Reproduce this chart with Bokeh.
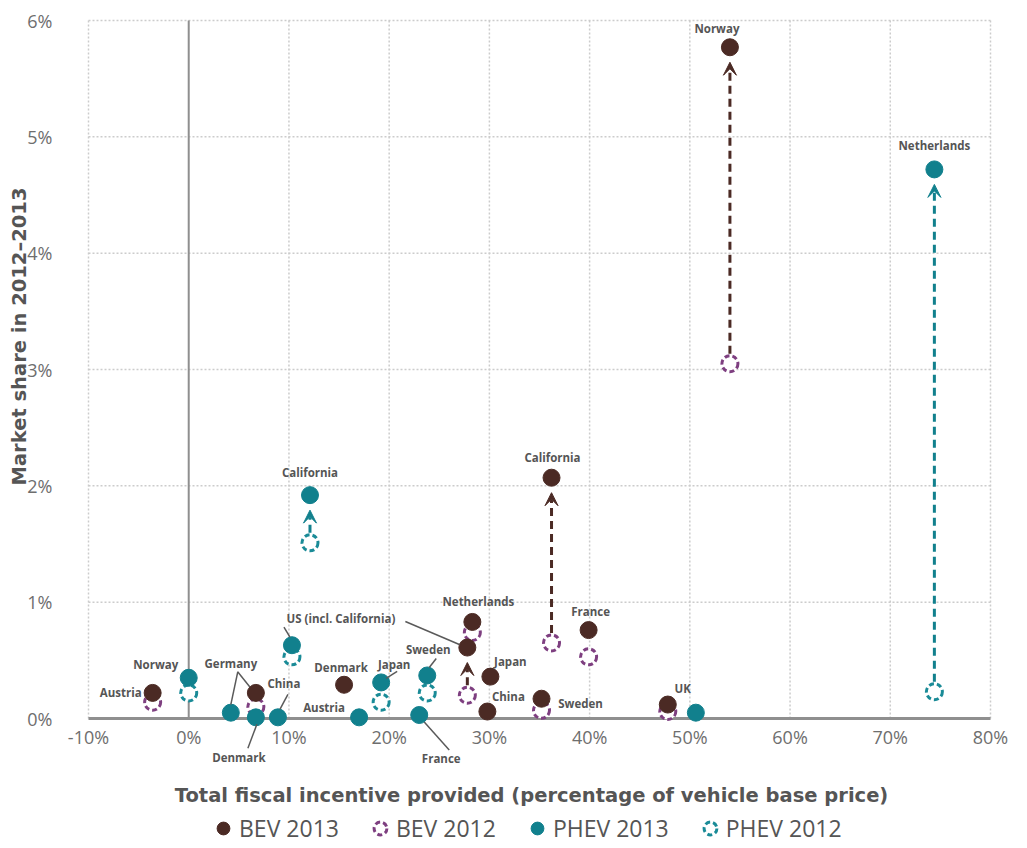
import math
from bokeh.plotting import figure
from bokeh.models import (ColumnDataSource, Range1d, LabelSet, Label, Arrow, VeeHead,
                          Legend, LegendItem, PrintfTickFormatter, FixedTicker)
from bokeh.core.properties import value
from bokeh.embed import file_html
from bokeh.resources import INLINE

nan = float("nan")

# ---------------- data ----------------
bev_countries = ["Austria", "Germany", "Denmark", "Netherlands", "US (incl. California)", "Japan",
                 "China", "Sweden", "California", "France", "UK", "Norway"]
bev_incentive = [-3.6, 6.7, 15.5, 28.3, 27.8, 30.1, 29.8, 35.2, 36.2, 39.9, 47.8, 54.0]
bev_share_2013 = [0.22, 0.22, 0.29, 0.83, 0.61, 0.36, 0.06, 0.17, 2.07, 0.76, 0.12, 5.77]
bev_share_2012 = [0.14, 0.10, nan, 0.74, 0.20, nan, nan, 0.07, 0.65, 0.53, 0.06, 3.05]

phev_countries = ["Norway", "Germany", "Denmark", "China", "US (incl. California)", "California",
                  "Austria", "Japan", "Sweden", "France", "UK", "Netherlands"]
phev_incentive = [0.0, 4.2, 6.7, 8.9, 10.3, 12.1, 17.0, 19.2, 23.8, 23.0, 50.6, 74.4]
phev_share_2013 = [0.35, 0.05, 0.01, 0.01, 0.63, 1.92, 0.01, 0.31, 0.37, 0.03, 0.05, 4.72]
phev_share_2012 = [0.22, nan, nan, nan, 0.53, 1.51, nan, 0.14, 0.22, nan, nan, 0.23]

bev_arrow_countries = ["US (incl. California)", "California", "Norway"]
phev_arrow_countries = ["California", "Netherlands"]

x_ticks = [-10, 0, 10, 20, 30, 40, 50, 60, 70, 80]
y_ticks = [0, 1, 2, 3, 4, 5, 6]
legend_labels = ["BEV 2013", "BEV 2012", "PHEV 2013", "PHEV 2012"]
x_title = "Total fiscal incentive provided (percentage of vehicle base price)"
y_title = "Market share in 2012\u20132013"

# ---------------- layout / style ----------------
X0, X1, Y0, Y1 = -10, 80, 0, 6
PX = 902 / (X1 - X0)          # px per unit x
PY = 698 / (Y1 - Y0)          # px per unit y
PAD_L, PAD_R, PAD_T, PAD_B = 88, 30, 20, 126   # px of frame around the data area
FW = 902 + PAD_L + PAD_R
FH = 698 + PAD_T + PAD_B

BEV13 = "#4b2a24"
BEV12 = "#7e3f80"
PHEV13 = "#11808d"
PHEV12 = "#1a8b97"
LBL = "#555555"
GRID = "#cccccc"
AXIS = "#8f8f8f"
FONT = "Open Sans"
TITLE_FONT = "DejaVu Sans"

# label placements: (series, country, text, dx px, dy px (down +), align)
label_specs = [
    ("bev", "Austria", "Austria", -11, 0, "right"),
    ("bev", "Germany", "Germany", -25, -29, "center"),
    ("bev", "Denmark", "Denmark", -3, -17, "center"),
    ("bev", "Netherlands", "Netherlands", 6, -20, "center"),
    ("bev", "Japan", "Japan", 20, -15, "center"),
    ("bev", "China", "China", 21, -15, "center"),
    ("bev", "Sweden", "Sweden", 39, 5, "center"),
    ("bev", "California", "California", 1, -20, "center"),
    ("bev", "France", "France", 2, -19, "center"),
    ("bev", "UK", "UK", 15, -16, "center"),
    ("bev", "Norway", "Norway", -13, -19, "center"),
    ("phev", "Norway", "Norway", -33, -13, "center"),
    ("phev", "US (incl. California)", "US (incl. California)", 49, -27, "center"),
    ("phev", "China", "China", 6, -34, "center"),
    ("phev", "Austria", "Austria", -35, -10, "center"),
    ("phev", "Japan", "Japan", 13, -18, "center"),
    ("phev", "Sweden", "Sweden", 1, -26, "center"),
    ("phev", "California", "California", 0, -23, "center"),
    ("phev", "Netherlands", "Netherlands", 0, -24, "center"),
    ("phev", "Denmark", "Denmark", -17, 40, "center"),
    ("phev", "France", "France", 22, 43, "center"),
]
# leader lines: (series, country, dx0, dy0, dx1, dy1) in px relative to the point
leader_specs = [
    ("phev", "Germany", 7, -41, 0, -8),
    ("bev", "Germany", -18, -21, -6, -6),
    ("phev", "China", 10, -23, 2, -8),
    ("phev", "US (incl. California)", -8, -18, -2, -8),
    ("bev", "US (incl. California)", -62, -26, -8, -3),
    ("phev", "Japan", 16, -11, 5, -4),
    ("phev", "Sweden", 9, -17, 2, -8),
    ("phev", "Denmark", 1, 7, -8, 31),
    ("phev", "France", 5, 7, 30, 35),
]


def point(series, country):
    if series == "bev":
        i = bev_countries.index(country)
        return bev_incentive[i], bev_share_2013[i]
    i = phev_countries.index(country)
    return phev_incentive[i], phev_share_2013[i]


p = figure(frame_width=FW, frame_height=FH,
           x_range=Range1d(X0 - PAD_L / PX, X1 + PAD_R / PX),
           y_range=Range1d(Y0 - PAD_B / PY, Y1 + PAD_T / PY),
           output_backend="svg", toolbar_location=None, min_border=0, outline_line_color=None,
           background_fill_color="white", border_fill_color="white")
p.grid.visible = False

# dotted grid, drawn only over the data area
gx = [t for t in x_ticks if t != 0]
p.segment(x0=gx, y0=[Y0] * len(gx), x1=gx, y1=[Y1] * len(gx),
          line_color=GRID, line_dash="2 2", line_width=1.5)
gy = [t for t in y_ticks if t != 0]
p.segment(x0=[X0] * len(gy), y0=gy, x1=[X1] * len(gy), y1=gy,
          line_color=GRID, line_dash="2 2", line_width=1.5)
p.segment(x0=[0], y0=[Y0], x1=[0], y1=[Y1], line_color=AXIS, line_width=2)
p.segment(x0=[X0], y0=[0], x1=[X1], y1=[0], line_color=AXIS, line_width=3)

# axes pinned to the data area
p.xaxis.ticker = FixedTicker(ticks=x_ticks)
p.yaxis.ticker = FixedTicker(ticks=y_ticks)
p.xaxis.formatter = PrintfTickFormatter(format="%d%%")
p.yaxis.formatter = PrintfTickFormatter(format="%d%%")
p.xaxis.fixed_location = 0
p.yaxis.fixed_location = X0
for ax in (p.xaxis, p.yaxis):
    ax.axis_line_color = None
    ax.major_tick_line_color = None
    ax.minor_tick_line_color = None
    ax.major_label_text_font = FONT
    ax.major_label_text_font_size = "18px"
    ax.major_label_text_color = "#6e6e6e"
p.xaxis.major_label_standoff = 0
p.yaxis.major_label_standoff = 30

p.add_layout(Label(x=X0 + 443 / PX, y=-77 / PY, text=x_title, text_align="center",
                   text_baseline="middle", text_font=TITLE_FONT, text_font_style="bold",
                   text_font_size="19.5px", text_color=LBL))
p.add_layout(Label(x=X0 - 69 / PX, y=382 / PY, text=y_title, angle=math.pi / 2,
                   text_align="center", text_baseline="middle", text_font=TITLE_FONT,
                   text_font_style="bold", text_font_size="19.5px", text_color=LBL))

# ---------------- points ----------------
bev_src = ColumnDataSource(dict(x=bev_incentive, y13=bev_share_2013, y12=bev_share_2012))
phev_src = ColumnDataSource(dict(x=phev_incentive, y13=phev_share_2013, y12=phev_share_2012))

r_b12 = p.scatter("x", "y12", source=bev_src, size=16, fill_color="white", line_color=BEV12,
                  line_width=3, line_dash="5 3")
r_p12 = p.scatter("x", "y12", source=phev_src, size=16, fill_color="white", line_color=PHEV12,
                  line_width=3, line_dash="5 3")
r_b13 = p.scatter("x", "y13", source=bev_src, size=17, fill_color=BEV13, line_color=BEV13)
r_p13 = p.scatter("x", "y13", source=phev_src, size=17, fill_color=PHEV13, line_color=PHEV13)


# ---------------- change arrows ----------------
def arrow_source(countries, names, xs, y12s, y13s):
    d = dict(xs=[], ys=[], xe=[], ye=[])
    for c in countries:
        i = names.index(c)
        d["xs"].append(xs[i])
        d["xe"].append(xs[i])
        d["ys"].append(y12s[i] + 10 / PY)
        d["ye"].append(y13s[i] - 15 / PY)
    return ColumnDataSource(d)


for countries, names, xs, y12s, y13s, col in [
        (bev_arrow_countries, bev_countries, bev_incentive, bev_share_2012, bev_share_2013, BEV13),
        (phev_arrow_countries, phev_countries, phev_incentive, phev_share_2012, phev_share_2013, PHEV13)]:
    src = arrow_source(countries, names, xs, y12s, y13s)
    p.add_layout(Arrow(source=src, x_start="xs", y_start="ys", x_end="xe", y_end="ye",
                       line_color=col, line_width=3, line_dash="8 5",
                       end=VeeHead(size=13, fill_color=col, line_color=col, line_width=1)))

# ---------------- leader lines ----------------
ld = dict(xs=[], ys=[], xe=[], ye=[])
for s, c, dx0, dy0, dx1, dy1 in leader_specs:
    px_, py_ = point(s, c)
    ld["xs"].append(px_ + dx0 / PX)
    ld["ys"].append(py_ - dy0 / PY)
    ld["xe"].append(px_ + dx1 / PX)
    ld["ye"].append(py_ - dy1 / PY)
p.segment(x0="xs", y0="ys", x1="xe", y1="ye", source=ColumnDataSource(ld),
          line_color="#5a5a5a", line_width=1.5)

# ---------------- labels ----------------
for align in ("center", "right"):
    lab = dict(x=[], y=[], t=[], dx=[], dy=[])
    for s, c, t, dx, dy, a in label_specs:
        if a != align:
            continue
        px_, py_ = point(s, c)
        lab["x"].append(px_)
        lab["y"].append(py_)
        lab["t"].append(t)
        lab["dx"].append(dx)
        lab["dy"].append(-dy)
    p.add_layout(LabelSet(source=ColumnDataSource(lab), x="x", y="y", text="t",
                          x_offset="dx", y_offset="dy", text_align=align, text_baseline="middle",
                          text_font=value(FONT), text_font_style="bold", text_font_size="11.5px",
                          text_color=LBL))

# ---------------- legend ----------------
legend = Legend(items=[LegendItem(label=legend_labels[0], renderers=[r_b13]),
                       LegendItem(label=legend_labels[1], renderers=[r_b12]),
                       LegendItem(label=legend_labels[2], renderers=[r_p13]),
                       LegendItem(label=legend_labels[3], renderers=[r_p12])],
                orientation="horizontal", location=(207, 0), border_line_color=None,
                background_fill_alpha=0, label_text_font=FONT, label_text_font_size="23px",
                label_text_color="#555555", glyph_width=32, glyph_height=32, label_standoff=0,
                spacing=25, padding=0, margin=0)
p.add_layout(legend)

open("out.html", "w").write(file_html(p, INLINE))
